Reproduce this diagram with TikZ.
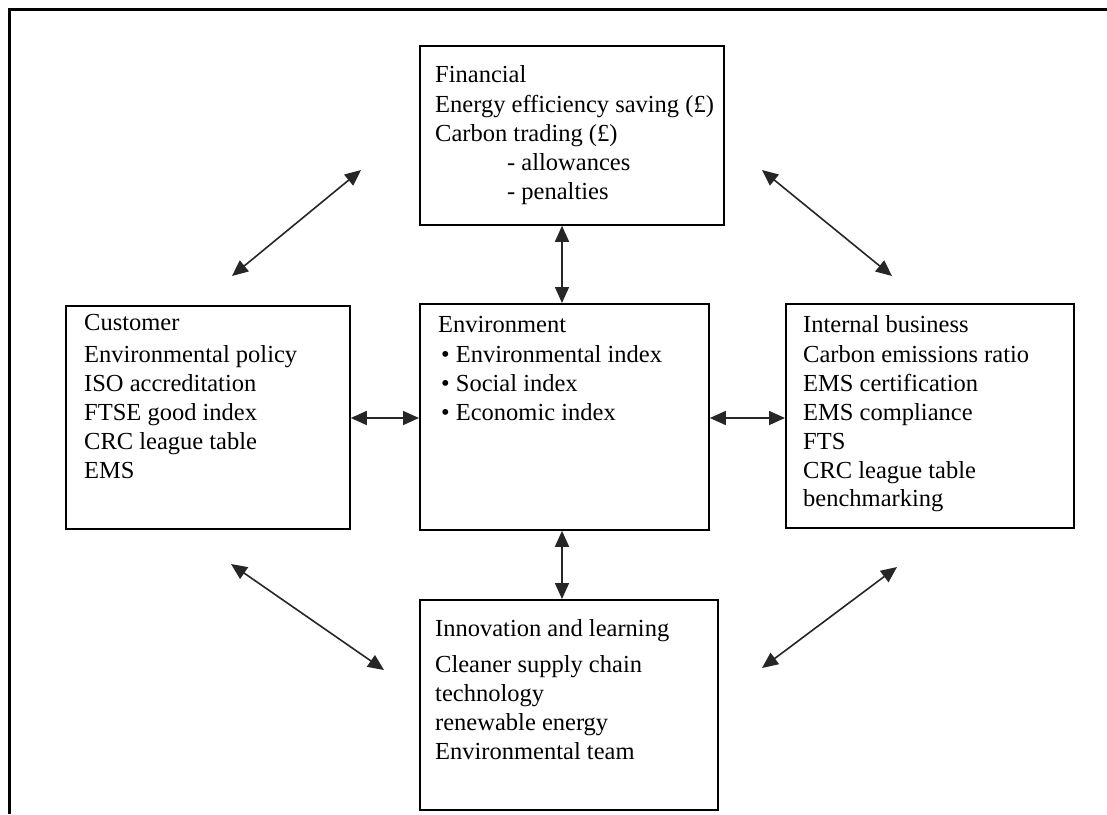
\documentclass[tikz,border=0pt]{standalone}
\usepackage{fontspec}
\setmainfont{Liberation Serif}
\usetikzlibrary{arrows.meta}
\begin{document}
\begin{tikzpicture}[x=1pt,y=-1pt,
  panel/.style={draw, line width=1.8pt, inner sep=0pt, anchor=north west},
  boxtext/.style={anchor=north west, inner sep=0pt, align=left,
    font=\fontsize{24.5}{28.8}\selectfont},
  link/.style={line width=1.6pt, draw=black!85,
    {Triangle[length=16pt,width=14pt]}-{Triangle[length=16pt,width=14pt]}}]

\useasboundingbox (0,0) rectangle (1107,814);

% page frame (top and left edges)
\draw[line width=3pt] (9,814) -- (9,9) -- (1107,9);

% the five perspective boxes
\node[panel, minimum width=304pt, minimum height=179pt] (fin)   at (419,45)  {};
\node[panel, minimum width=284pt, minimum height=223pt] (cust)  at (65,305)  {};
\node[panel, minimum width=289pt, minimum height=226pt] (env)   at (419,303) {};
\node[panel, minimum width=288pt, minimum height=224pt] (intb)  at (785,303) {};
\node[panel, minimum width=298pt, minimum height=210pt] (innov) at (419,599) {};

% box contents
\node[boxtext] (fintxt) at (435,61.8) {\strut Financial\\[2pt]
  Energy efficiency saving (£)\\
  Carbon trading (£)\\
  \hspace*{72pt}- allowances\\
  \hspace*{72pt}- penalties};

\node[boxtext] (custtxt) at (84,309.8) {\strut Customer\\[4pt]
  Environmental policy\\
  ISO accreditation\\
  FTSE good index\\
  CRC league table\\
  EMS};

\node[boxtext] (envtxt) at (438,311.8) {\strut Environment\\[2pt]
  \hspace*{3pt}• Environmental index\\
  \hspace*{3pt}• Social index\\
  \hspace*{3pt}• Economic index};

\node[boxtext] (intbtxt) at (803,311.8) {\strut Internal business\\[2pt]
  Carbon emissions ratio\\
  EMS certification\\
  EMS compliance\\
  FTS\\
  CRC league table\\
  benchmarking};

\node[boxtext] (innovtxt) at (435,615.8) {\strut Innovation and learning\\[8pt]
  Cleaner supply chain\\
  technology\\
  renewable energy\\
  Environmental team};

% straight links to the central box
\coordinate (vx) at (562,0);
\coordinate (hy) at (0,418);
\draw[link] (fin.south -| vx) -- (env.north -| vx);
\draw[link] (env.south -| vx) -- (innov.north -| vx);
\draw[link] (cust.east |- hy) -- (env.west |- hy);
\draw[link] (env.east |- hy) -- (intb.west |- hy);

% diagonal links between the outer boxes
\coordinate (tl1) at (232,276);
\coordinate (tl2) at (361,170);
\coordinate (tr1) at (762,170);
\coordinate (tr2) at (892,276);
\coordinate (bl1) at (231,564);
\coordinate (bl2) at (384,670);
\coordinate (br1) at (762,668);
\coordinate (br2) at (897,567);
\draw[link] (tl1) -- (tl2);
\draw[link] (tr1) -- (tr2);
\draw[link] (bl1) -- (bl2);
\draw[link] (br1) -- (br2);

\end{tikzpicture}
\end{document}
